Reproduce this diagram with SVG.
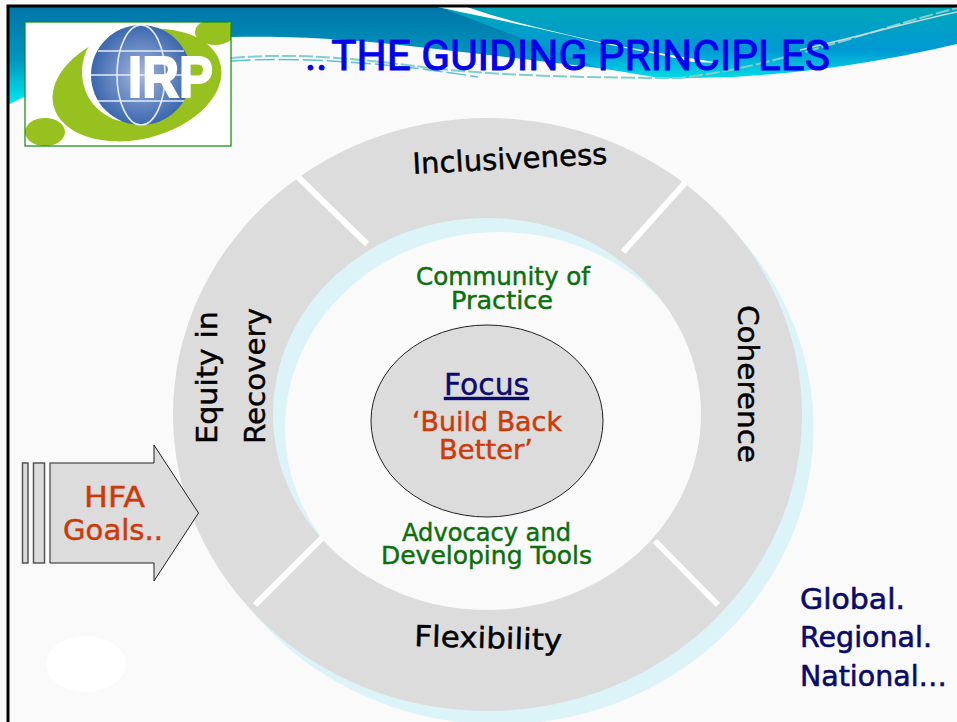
<svg xmlns="http://www.w3.org/2000/svg" width="957" height="722" viewBox="0 0 957 722">
<defs>
<linearGradient id="sky" gradientUnits="userSpaceOnUse" x1="0" y1="7" x2="0" y2="105"><stop offset="0" stop-color="#0075a8"/><stop offset="0.55" stop-color="#0098c0"/><stop offset="1" stop-color="#00ecf0"/></linearGradient>
<linearGradient id="sky2" gradientUnits="userSpaceOnUse" x1="0" y1="7" x2="0" y2="78"><stop offset="0" stop-color="#00a8b8"/><stop offset="0.6" stop-color="#0098d4"/><stop offset="1" stop-color="#00dce4"/></linearGradient>
<radialGradient id="globe" cx="0.5" cy="0.5" r="0.55"><stop offset="0" stop-color="#a5b6de"/><stop offset="1" stop-color="#3060aa"/></radialGradient>
<clipPath id="logoClip"><rect x="25" y="22" width="206" height="124"/></clipPath>
</defs>
<style>
text{font-family:"DejaVu Sans","Liberation Sans",sans-serif}
.lab{font-size:29px;fill:#000;stroke:#000;stroke-width:.45px}
.grn{font-size:25px;fill:#0b6f0b;stroke:#0b6f0b;stroke-width:.45px}
.red{font-size:27px;fill:#cc3a0a;stroke:#cc3a0a;stroke-width:.45px}
.navy{font-size:29px;fill:#0a0a6a;stroke:#0a0a6a;stroke-width:.6px}
.div{stroke:#fff;stroke-width:6;fill:none}
.bar{fill:#dcdcdc;stroke:#555;stroke-width:1.5}
</style>
<rect width="957" height="722" fill="#fafafa"/>
<g id="banner">
<path d="M8 7H470L700 70 680 78C600 68 500 56 400 45 340 38 280 36 231 37 150 45 60 78 8 105Z" fill="url(#sky)"/>
<path d="M440 7H957V44C880 62 780 80 660 78L600 68Z" fill="url(#sky2)"/>
<path d="M437 7H467C510 22 560 33 600 42 650 52 690 58 720 63L693 62C650 52 610 46 567 35 520 24 470 14 437 7Z" fill="#fff"/>
<path d="M231 58C300 52 370 60 430 68 500 76 600 78 680 78 780 66 870 30 957 8" fill="none" stroke="#7fd0c8" stroke-width="2" stroke-dasharray="14 3"/>
<path d="M231 61C300 56 400 64 478 77" fill="none" stroke="#5cc0d8" stroke-width="1.5" stroke-dasharray="20 4"/>
<path d="M800 50C860 36 910 22 957 12" fill="none" stroke="#c8d8e0" stroke-width="1.5"/>
</g>
<path d="M8 722V6H957" fill="none" stroke="#000" stroke-width="3"/>
<text id="title" x="305" y="70" font-size="42" fill="#0000ee" stroke="#0000ee" stroke-width="1" style="font-family:Roboto,'Liberation Sans',sans-serif" textLength="525" lengthAdjust="spacingAndGlyphs">..<tspan dx="4">THE GUIDING PRINCIPLES</tspan></text>
<g id="logo">
<rect x="25" y="22" width="206" height="124" fill="#fff"/>
<g clip-path="url(#logoClip)">
<ellipse cx="137" cy="85" rx="86" ry="54" fill="#97c11f" transform="rotate(-14 137 85)"/>
<ellipse cx="130" cy="72" rx="48" ry="50" fill="#fff"/>
<ellipse cx="215" cy="32" rx="20" ry="13" fill="#97c11f"/>
<ellipse cx="45" cy="132" rx="20" ry="14" fill="#97c11f"/>
<circle cx="141" cy="75" r="50" fill="url(#globe)"/>
<g fill="none" stroke="#e4ebf5" stroke-width="1.6"><ellipse cx="141" cy="75" rx="24" ry="50"/><path d="M98 51H184M91 75H191M98 101H184"/></g>
</g>
<text x="128" y="97" font-size="58" font-weight="700" fill="#fff" stroke="#fff" stroke-width="2" style="font-family:'Liberation Sans',sans-serif" textLength="85" lengthAdjust="spacingAndGlyphs">IRP</text>
<rect x="25" y="22" width="206" height="124" fill="none" stroke="#0a8a0a" stroke-width="1.2"/>
</g>
<ellipse id="blob" cx="86" cy="664" rx="40" ry="28" fill="#fff"/>
<g id="ring">
<path fill="#dcf3f8" fill-rule="evenodd" d="M813.500 428A314.500 296.500 0 1 1 184.500 428A314.500 296.500 0 1 1 813.500 428ZM713 428A214 196 0 1 0 285 428A214 196 0 1 0 713 428Z"/>
<path fill="#dcdcdc" fill-rule="evenodd" d="M802 414.500A314.500 296.500 0 1 1 173 414.500A314.500 296.500 0 1 1 802 414.500ZM701 414A214 196 0 1 0 273 414A214 196 0 1 0 701 414Z"/>
</g>
<g id="connectors">
<path class="div" d="M298 177L367 244M685 183L623 252M322 538L255 605M655 541L718 605"/>
</g>
<g id="inclusiveness"><text class="lab" x="413" y="174" transform="rotate(-3 413 174)" textLength="195" lengthAdjust="spacingAndGlyphs">Inclusiveness</text></g>
<g id="coherence"><text class="lab" transform="translate(738 305) rotate(90)" textLength="158" lengthAdjust="spacingAndGlyphs">Coherence</text></g>
<g id="flexibility"><text class="lab" x="414" y="646" transform="rotate(1.600 414 646)" textLength="148" lengthAdjust="spacingAndGlyphs">Flexibility</text></g>
<g id="equity"><text class="lab" transform="translate(217 444) rotate(-90)" textLength="133" lengthAdjust="spacingAndGlyphs">Equity in</text><text class="lab" transform="translate(265 444) rotate(-90)" textLength="136" lengthAdjust="spacingAndGlyphs">Recovery</text></g>
<g id="community"><text class="grn" x="416" y="285" textLength="174" lengthAdjust="spacingAndGlyphs">Community of</text><text class="grn" x="451" y="309" textLength="102" lengthAdjust="spacingAndGlyphs">Practice</text></g>
<g id="advocacy"><text class="grn" x="402" y="541" textLength="169" lengthAdjust="spacingAndGlyphs">Advocacy and</text><text class="grn" x="381" y="564" textLength="211" lengthAdjust="spacingAndGlyphs">Developing Tools</text></g>
<g id="focus">
<ellipse cx="487" cy="421" rx="116" ry="96" fill="#dcdcdc" stroke="#222" stroke-width="1"/>
<text x="444" y="395" font-size="30" fill="#0a0a70" stroke="#0a0a70" stroke-width=".4" textLength="85" lengthAdjust="spacingAndGlyphs" text-decoration="underline">Focus</text>
<text class="red" x="412" y="431" textLength="150" lengthAdjust="spacingAndGlyphs">‘Build Back</text><text class="red" x="439" y="459" textLength="94" lengthAdjust="spacingAndGlyphs">Better’</text>
</g>
<g id="hfa">
<rect class="bar" x="22.500" y="463" width="5.500" height="100"/>
<rect class="bar" x="33.500" y="463" width="11" height="100"/>
<path d="M50 463H154V445L198.500 513 154 581V563H50Z" fill="#dcdcdc"/>
<path d="M50 563V463H154" fill="none" stroke="#666" stroke-width="1.500"/>
<path d="M154 463V445L198.500 513 154 581V563H50" fill="none" stroke="#222" stroke-width="1"/>
<text class="red" x="84" y="507" style="font-size:29px" textLength="61" lengthAdjust="spacingAndGlyphs">HFA</text><text class="red" x="63" y="540" style="font-size:29px" textLength="100" lengthAdjust="spacingAndGlyphs">Goals..</text>
</g>
<g id="levels"><text class="navy" x="800" y="609" textLength="105" lengthAdjust="spacingAndGlyphs">Global.</text><text class="navy" x="800" y="647" textLength="132" lengthAdjust="spacingAndGlyphs">Regional.</text><text class="navy" x="800" y="686" textLength="147" lengthAdjust="spacingAndGlyphs">National…</text></g>
</svg>
